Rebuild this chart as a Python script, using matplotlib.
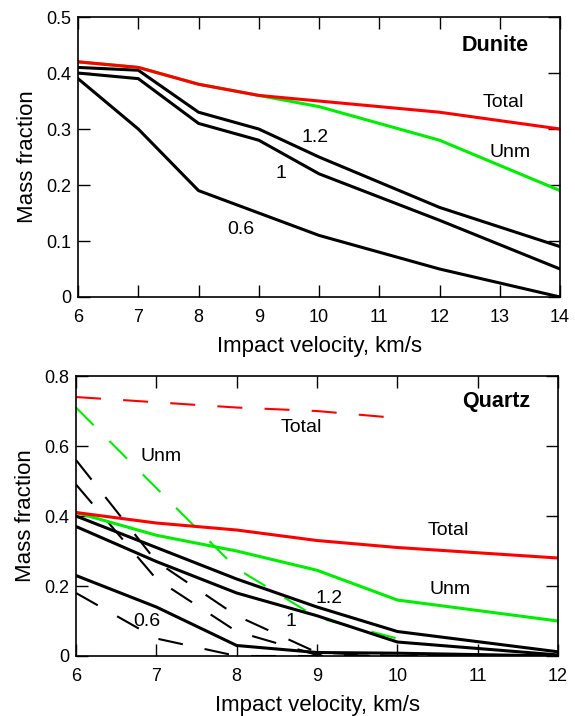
import matplotlib
matplotlib.use("Agg")
import matplotlib.pyplot as plt
from matplotlib.ticker import FuncFormatter

plt.rcParams["font.family"] = ["Liberation Sans", "DejaVu Sans"]
plt.rcParams["lines.scale_dashes"] = False

# Dunite (top panel)
dun_v = [6, 7, 8, 9, 10, 12, 14]
dun_total = [0.42, 0.41, 0.38, 0.36, 0.35, 0.33, 0.30]
dun_unm = [0.42, 0.41, 0.38, 0.36, 0.34, 0.28, 0.19]
dun_12 = [0.41, 0.405, 0.33, 0.30, 0.25, 0.16, 0.09]
dun_1 = [0.40, 0.39, 0.31, 0.28, 0.22, 0.137, 0.05]
dun_06 = [0.39, 0.30, 0.19, 0.15, 0.11, 0.05, 0.0]

# Quartz (bottom panel), solid lines
qz_v = [6, 7, 8, 9, 10, 12]
qz_total = [0.41, 0.38, 0.36, 0.33, 0.31, 0.28]
qz_unm = [0.41, 0.345, 0.30, 0.245, 0.16, 0.10]
qz_12 = [0.40, 0.31, 0.22, 0.14, 0.07, 0.012]
qz_1 = [0.37, 0.27, 0.18, 0.115, 0.04, 0.003]
qz_06 = [0.23, 0.14, 0.03, 0.01, 0.008, 0.0]

# Quartz, dashed lines
qzd_v = [6, 7, 8, 9, 10]
qzd_total = [0.74, 0.725, 0.71, 0.70, 0.68]
qzd_unm = [0.71, 0.48, 0.25, 0.11, 0.05]
qzd_vb = [6, 7, 8, 9, 10, 12]
qzd_a = [0.56, 0.27, 0.115, 0.01, 0.0, 0.0]
qzd_b = [0.49, 0.22, 0.07, 0.003, 0.0, 0.0]
qzd_c = [0.18, 0.05, 0.0, 0.0, 0.0, 0.0]

RED = "#ff0000"
GREEN = "#00ee00"
LW = 2.2
LWD = 1.5
DASH = (18, 16)


def style_axes(ax, xmin, xmax, ymax, ystep):
    ax.set_xlim(xmin, xmax)
    ax.set_ylim(0, ymax)
    ax.set_xticks(range(xmin, xmax + 1))
    yt = [round(i * ystep, 2) for i in range(int(round(ymax / ystep)) + 1)]
    ax.set_yticks(yt)
    ax.yaxis.set_major_formatter(FuncFormatter(lambda v, p: "%g" % v))
    ax.tick_params(direction="in", length=8.5, width=1.0, top=True, right=True,
                   labelsize=13)
    ax.tick_params(axis="x", pad=9)
    ax.tick_params(axis="y", pad=5)
    for s in ax.spines.values():
        s.set_linewidth(1.2)
    ax.set_xlabel("Impact velocity, km/s", fontsize=16, labelpad=7)
    ax.set_ylabel("Mass fraction", fontsize=16, labelpad=6)


fig = plt.figure(figsize=(5.75, 7.16), dpi=100)

# ---- Dunite ----
ax1 = fig.add_axes([0.1357, 0.5852, 0.8383, 0.391])
ax1.plot(dun_v, dun_06, color="black", lw=LW)
ax1.plot(dun_v, dun_1, color="black", lw=LW)
ax1.plot(dun_v, dun_12, color="black", lw=LW)
ax1.plot(dun_v, dun_unm, color=GREEN, lw=LW)
ax1.plot(dun_v, dun_total, color=RED, lw=LW)
style_axes(ax1, 6, 14, 0.5, 0.1)

ax1.text(12.92, 0.45, "Dunite", fontsize=15.5, fontweight="bold", ha="center", va="center")
ax1.text(13.06, 0.347, "Total", fontsize=14, ha="center", va="center")
ax1.text(13.17, 0.258, "Unm", fontsize=14, ha="center", va="center")
ax1.text(9.93, 0.285, "1.2", fontsize=14, ha="center", va="center")
ax1.text(9.37, 0.221, "1", fontsize=14, ha="center", va="center")
ax1.text(8.70, 0.12, "0.6", fontsize=14, ha="center", va="center")

# ---- Quartz ----
ax2 = fig.add_axes([0.1322, 0.0838, 0.8383, 0.391])
for y in [qzd_a, qzd_b, qzd_c]:
    ax2.plot(qzd_vb, y, color="black", lw=LWD, dashes=DASH)
ax2.plot(qzd_v, qzd_unm, color=GREEN, lw=LWD, dashes=DASH)
ax2.plot(qzd_v, qzd_total, color=RED, lw=LWD, dashes=DASH)
ax2.plot(qz_v, qz_06, color="black", lw=LW)
ax2.plot(qz_v, qz_1, color="black", lw=LW)
ax2.plot(qz_v, qz_12, color="black", lw=LW)
ax2.plot(qz_v, qz_unm, color=GREEN, lw=LW)
ax2.plot(qz_v, qz_total, color=RED, lw=LW)
style_axes(ax2, 6, 12, 0.8, 0.2)

ax2.text(11.23, 0.726, "Quartz", fontsize=15.5, fontweight="bold", ha="center", va="center")
ax2.text(8.81, 0.654, "Total", fontsize=14, ha="center", va="center")
ax2.text(7.06, 0.571, "Unm", fontsize=14, ha="center", va="center")
ax2.text(10.63, 0.358, "Total", fontsize=14, ha="center", va="center")
ax2.text(10.65, 0.189, "Unm", fontsize=14, ha="center", va="center")
ax2.text(9.15, 0.165, "1.2", fontsize=14, ha="center", va="center")
ax2.text(8.67, 0.098, "1", fontsize=14, ha="center", va="center")
ax2.text(6.88, 0.10, "0.6", fontsize=14, ha="center", va="center")

fig.savefig("out.png", dpi=100)
